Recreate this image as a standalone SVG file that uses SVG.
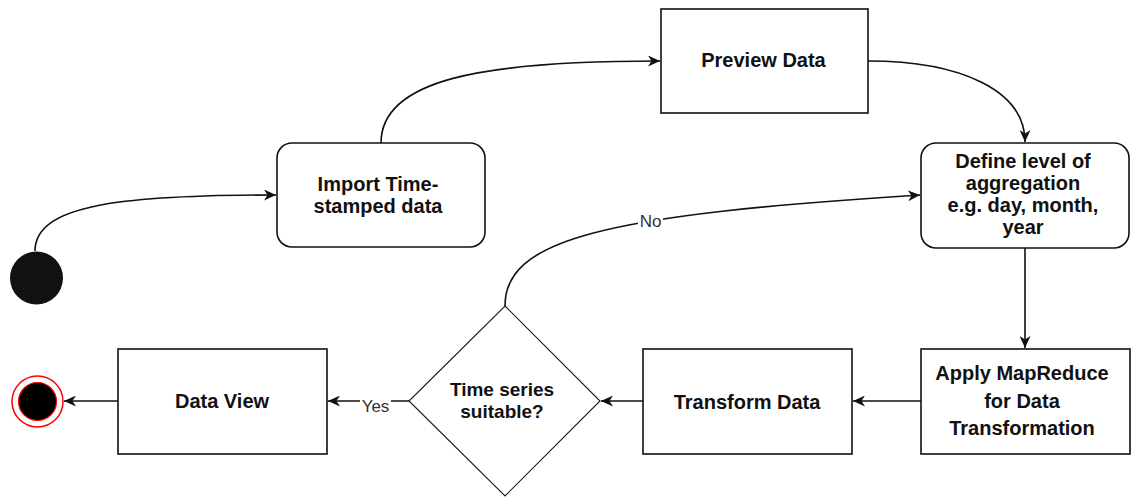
<svg xmlns="http://www.w3.org/2000/svg" width="1131" height="498" viewBox="0 0 1131 498">
  <style>
    .box { fill: #ffffff; stroke: #111111; stroke-width: 1.6; }
    .dia { fill: #ffffff; stroke: #222222; stroke-width: 1.2; }
    .lbl { font-family: "Liberation Sans", Arial, Helvetica, sans-serif; font-weight: bold; font-size: 20px; fill: #111111; text-anchor: middle; }
    .edge { fill: none; stroke: #111111; stroke-width: 1.6; }
    .elbl { font-family: "Liberation Sans", Arial, Helvetica, sans-serif; font-size: 17px; fill: #333333; text-anchor: middle; }
  </style>
  <defs>
    <marker id="arrow" viewBox="0 0 13 11" refX="12" refY="5.5" markerWidth="13" markerHeight="11" markerUnits="userSpaceOnUse" orient="auto">
      <path d="M0,0 L12,5.5 L0,11 L3.5,5.5 z" fill="#111111"/>
    </marker>
  </defs>

  <rect width="1131" height="498" fill="#ffffff"/>

  <!-- connectors -->
  <g id="connectors">
    <path class="edge" d="M35 251 C35 205 120 195 276 195" marker-end="url(#arrow)"/>
    <path class="edge" d="M381 143 C381 80 480 61 660 61" marker-end="url(#arrow)"/>
    <path class="edge" d="M868 61 C960 61 1025 90 1025 142" marker-end="url(#arrow)"/>
    <path class="edge" d="M1025 248 L1025 348" marker-end="url(#arrow)"/>
    <path class="edge" d="M921 401 L853 401" marker-end="url(#arrow)"/>
    <path class="edge" d="M643 401 L601 401" marker-end="url(#arrow)"/>
    <path class="edge" d="M409 401 L328 401" marker-end="url(#arrow)"/>
    <path class="edge" d="M118 401 L64 401" marker-end="url(#arrow)"/>
    <path class="edge" d="M505 306 C505 240 600 215 920 195" marker-end="url(#arrow)"/>
    <!-- edge labels -->
    <g id="label-no">
      <rect x="638" y="208" width="25" height="19" fill="#ffffff"/>
      <text class="elbl" x="650.5" y="226.5">No</text>
    </g>
    <g id="label-yes">
      <rect x="360" y="394" width="31" height="18" fill="#ffffff"/>
      <text class="elbl" x="375.5" y="412">Yes</text>
    </g>
  </g>

  <!-- start -->
  <g id="start">
    <circle cx="36.5" cy="278" r="26.5" fill="#111111"/>
  </g>

  <g id="import">
    <rect class="box" x="277" y="143" width="208" height="104" rx="15" ry="15"/>
    <text class="lbl" x="378" y="190.5">Import Time-</text>
    <text class="lbl" x="378" y="212.5">stamped data</text>
  </g>

  <g id="preview">
    <rect class="box" x="661" y="9" width="207" height="104"/>
    <text class="lbl" x="763.5" y="66.5">Preview Data</text>
  </g>

  <g id="define">
    <rect class="box" x="921" y="143" width="208" height="105" rx="15" ry="15"/>
    <text class="lbl" x="1023" y="168">Define level of</text>
    <text class="lbl" x="1023" y="190">aggregation</text>
    <text class="lbl" x="1023" y="212">e.g. day, month,</text>
    <text class="lbl" x="1023" y="234">year</text>
  </g>

  <g id="mapreduce">
    <rect class="box" x="921" y="349" width="209" height="105"/>
    <text class="lbl" x="1022" y="380">Apply MapReduce</text>
    <text class="lbl" x="1022" y="407.5">for Data</text>
    <text class="lbl" x="1022" y="435">Transformation</text>
  </g>

  <g id="transform">
    <rect class="box" x="643" y="349" width="209" height="105"/>
    <text class="lbl" x="747" y="408.5">Transform Data</text>
  </g>

  <g id="decision">
    <polygon class="dia" points="505,306 600,401 505,496 409,401"/>
    <text class="lbl" x="502" y="396" style="font-size:19px">Time series</text>
    <text class="lbl" x="502" y="418" style="font-size:19px">suitable?</text>
  </g>

  <g id="dataview">
    <rect class="box" x="118" y="349" width="209" height="105"/>
    <text class="lbl" x="222" y="408">Data View</text>
  </g>

  <g id="end">
    <circle cx="37.5" cy="401.5" r="25.5" fill="#ffffff" stroke="#ff0000" stroke-width="1.5"/>
    <circle cx="37.5" cy="401.5" r="19" fill="#000000" stroke="#ff0000" stroke-width="1.2"/>
  </g>
</svg>
